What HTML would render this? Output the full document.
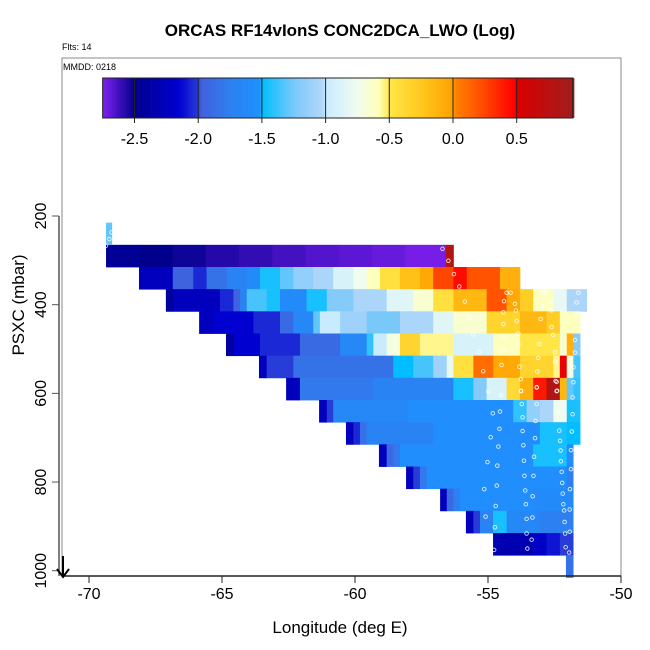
<!DOCTYPE html>
<html><head><meta charset="utf-8"><style>
body{margin:0;background:#fff;width:650px;height:650px;overflow:hidden}
svg{display:block;font-family:"Liberation Sans",sans-serif}
</style></head><body>
<svg id="c" width="650" height="650" viewBox="0 0 650 650">
<text x="340" y="36" text-anchor="middle" font-size="17" font-weight="bold">ORCAS RF14vIonS CONC2DCA_LWO (Log)</text>
<text x="62" y="50" font-size="9">Flts: 14</text>
<g id="cells"></g>
<g id="circles"></g>
<g id="cbar"></g>
<rect x="62" y="58" width="559" height="518" fill="none" stroke="#888" stroke-width="1"/>
<text x="63" y="70" font-size="9">MMDD: 0218</text>
<line x1="59" y1="216" x2="59" y2="576" stroke="#555" stroke-width="1.5"/>
<line x1="62" y1="576" x2="621" y2="576" stroke="#222" stroke-width="1.5"/>
<g id="xt"></g>
<g id="yt"></g>
<g><line x1="63" y1="556" x2="63" y2="576" stroke="#000" stroke-width="2"/><path d="M57,569 L63,577 L69,569" fill="none" stroke="#000" stroke-width="2"/></g>
<text x="340" y="633" text-anchor="middle" font-size="17">Longitude (deg E)</text>
<text transform="translate(24,305) rotate(-90)" text-anchor="middle" font-size="17">PSXC (mbar)</text>
</svg>
<script>
const xTicks=[-70,-65,-60,-55,-50];
const yTicks=[200,400,600,800,1000];
const cbTicks=[-2.5,-2.0,-1.5,-1.0,-0.5,0.0,0.5];
const rowTop=[265,315,365,415,465,515,565,615,665,715,765,815,865,915,965];
const rowEnd=[-56.3,-53.8,-51.29,-51.54,-51.54,-51.54,-51.54,-51.54,-51.54,-51.8,-51.8,-51.8,-51.8,-51.8,-51.8];
const segLon=[
[-69.36,-68.11,-66.86,-65.61,-64.36,-63.11,-61.86,-60.61,-59.36,-58.11,-56.58],
[-68.12,-66.85,-66.08,-65.58,-64.82,-64.07,-63.57,-62.82,-62.32,-61.57,-60.82,-60.06,-59.56,-59.06,-58.31,-57.56,-57.06,-56.3,-55.8,-54.55],
[-67.11,-66.83,-65.08,-64.57,-64.32,-64.07,-63.32,-62.82,-61.82,-61.06,-60.06,-58.81,-57.81,-57.06,-56.3,-55.05,-54.3,-53.8,-53.3,-52.54,-52.04],
[-65.86,-65.33,-63.82,-62.82,-62.32,-61.57,-61.32,-60.56,-59.56,-58.31,-57.06,-56.3,-55.05,-53.8,-52.8,-52.3],
[-64.85,-64.57,-63.57,-62.07,-60.56,-59.56,-59.31,-58.81,-58.31,-57.56,-56.3,-54.8,-53.8,-52.3,-52.04,-51.79],
[-63.61,-63.32,-62.32,-58.56,-57.81,-57.06,-56.55,-56.3,-55.55,-54.8,-53.8,-52.54,-52.3,-52.04,-51.79],
[-62.59,-62.07,-59.3,-56.3,-55.55,-55.05,-54.3,-53.8,-53.3,-52.8,-52.3,-52.04,-51.79],
[-61.35,-61.06,-60.82,-58.0,-54.05,-53.55,-53.05,-52.54,-52.04],
[-60.34,-60.06,-59.81,-59.56,-57.06,-53.05,-52.04],
[-59.1,-58.81,-58.56,-58.31,-53.3,-52.04],
[-58.08,-57.81,-57.56,-57.3,-52.04],
[-56.8,-56.55,-56.3,-56.05,-53.3],
[-55.83,-55.55,-55.3,-54.81,-54.3,-53.05],
[-54.81,-53.3,-52.8,-52.3],
[-52.07]];
const segVal=[
[-2.45,-2.5,-2.53,-2.57,-2.6,-2.63,-2.66,-2.68,-2.7,-2.73,0.8],
[-2.25,-1.95,-2.05,-1.85,-1.7,-1.6,-1.45,-1.3,-1.15,-1.05,-0.9,-0.75,-0.6,-0.45,-0.2,-0.05,0.25,0.45,0.2,-0.1],
[-2.4,-2.25,-2.05,-1.95,-1.7,-1.35,-1.45,-1.6,-1.45,-1.2,-1.05,-0.85,-0.65,-0.45,-0.15,0.2,-0.05,-0.3,-0.6,-0.8,-1.05],
[-2.25,-2.15,-2.05,-1.9,-1.65,-1.3,-1.0,-1.1,-1.25,-1.05,-0.85,-0.65,-0.35,-0.15,-0.3,-0.6],
[-2.4,-2.15,-2.05,-1.9,-1.65,-1.4,-1.0,-0.7,-0.35,-0.55,-0.9,-0.6,-0.5,-0.65,-0.1,-1.2],
[-2.25,-2.0,-1.85,-1.5,-1.35,-1.1,-0.8,-0.45,0.1,-0.05,-0.35,-0.55,0.5,-0.7,-1.35],
[-2.25,-1.8,-1.7,-1.45,-1.2,-0.9,-0.4,-0.1,0.4,0.8,-0.15,-1.3,-1.4],
[-2.25,-2.0,-1.65,-1.55,-1.4,-1.15,-1.05,-0.75,-1.45],
[-2.25,-2.05,-1.85,-1.7,-1.55,-1.45,-1.5],
[-2.25,-1.9,-1.8,-1.55,-1.45,-1.55],
[-2.25,-2.0,-1.8,-1.55,-1.75],
[-2.25,-1.9,-1.75,-1.55,-1.6],
[-2.25,-2.0,-1.7,-1.45,-1.65,-1.75],
[-2.3,-2.2,-2.1,-2.0],
[-1.85]];
const stripLon=[-69.36,-69.13];
const stripP=[215,265];
const stripVal=-1.3;
const ptLon=[-69.235,-69.15,-69.36,-56.71,-56.49,-56.28,-56.08,-55.87,-54.40,-53.99,-52.98,-52.65,-51.67,-55.70,-54.42,-53.92,-54.42,-53.95,-53.02,-52.61,-52.61,-51.67,-55.55,-55.33,-54.42,-53.86,-54.42,-53.86,-53.07,-52.55,-52.48,-51.73,-51.73,-54.49,-55.18,-53.82,-53.11,-53.15,-52.48,-51.79,-53.77,-53.76,-53.17,-52.46,-52.40,-54.99,-51.79,
-54.51,-53.76,-53.17,-52.42,-52.42,-51.82,-54.82,-54.55,-53.73,-53.17,-53.70,-53.21,-52.36,-51.82,-54.57,-54.90,-53.70,-53.23,-52.32,-52.29,-51.85,-54.61,-55.02,-54.65,-53.67,-53.65,-53.27,-52.27,-52.26,-51.88,-52.23,-51.88,-53.63,-53.29,-52.21,-55.14,-54.67,-53.60,-53.32,-53.58,-52.19,-51.92,-52.17,-54.71,-55.09,-54.74,-53.55,-53.33,-52.14,-51.93,-52.12,-53.55,-53.36,-52.10,-51.93,-54.77,-53.52,-52.08,-51.95,-54.3,-54.15,-52.95,-52.85,-51.6];
const ptP=[252,237,267,274,301,331,359,393,392,398,404,393,395,429,417,437,444,413,432,413,450,422,467,506,472,465,502,489,489,468,507,480,508,536,550,540,520,551,529,541,568,594,587,572,594,596,575,
604,595,586,574,595,609,645,641,624,624,654,662,641,647,680,699,685,701,684,707,686,720,755,763,717,752,743,729,753,728,777,771,786,786,802,816,808,819,832,850,826,816,850,854,878,902,883,880,864,862,890,916,930,916,912,953,950,947,959,373,373,373,373,373];

const NS='http://www.w3.org/2000/svg';
const X=lon=>89+(lon+70)*26.6;
const Y=p=>216+(p-200)*0.4434;
const CBX=v=>453+v*127.4;
const stops=[[-2.75,[128,32,240]],[-2.5,[0,0,140]],[-2.15,[0,0,208]],[-2.0,[40,60,215]],[-1.98,[65,95,220]],[-1.75,[45,128,240]],[-1.52,[30,144,255]],[-1.5,[0,190,255]],[-1.25,[120,200,250]],[-1.02,[180,215,250]],[-1.0,[200,235,255]],[-0.75,[240,252,240]],[-0.58,[255,255,185]],[-0.5,[255,230,70]],[-0.25,[255,200,30]],[0,[255,160,0]],[0.02,[255,130,0]],[0.25,[255,70,0]],[0.48,[255,0,0]],[0.52,[215,0,0]],[0.94,[160,30,30]]];
function col(v){
 if(v<=stops[0][0])return 'rgb('+stops[0][1]+')';
 for(let i=1;i<stops.length;i++){if(v<=stops[i][0]){const a=stops[i-1],b=stops[i],t=(v-a[0])/(b[0]-a[0]);
 return 'rgb('+a[1].map((c,k)=>Math.round(c+(b[1][k]-c)*t)).join(',')+')';}}
 return 'rgb('+stops[stops.length-1][1]+')';
}
function mk(tag,attrs,parent){const e=document.createElementNS(NS,tag);for(const k in attrs)e.setAttribute(k,attrs[k]);parent.appendChild(e);return e;}
const cells=document.getElementById('cells');
for(let r=0;r<segLon.length;r++){
 for(let s=0;s<segLon[r].length;s++){
  const l0=segLon[r][s],l1=s+1<segLon[r].length?segLon[r][s+1]:rowEnd[r];
  const e=mk('rect',{x:X(l0),y:Y(rowTop[r]),width:X(l1)-X(l0)+0.4,height:Y(rowTop[r]+50)-Y(rowTop[r])+0.4,fill:col(segVal[r][s])},cells);
  
  
 }
}
const st=mk('rect',{x:X(stripLon[0]),y:Y(stripP[0]),width:X(stripLon[1])-X(stripLon[0]),height:Y(stripP[1])-Y(stripP[0]),fill:col(stripVal)},cells);


const circ=document.getElementById('circles');
for(let i=0;i<ptLon.length;i++){
 const c=mk('circle',{cx:X(ptLon[i]),cy:Y(ptP[i]),r:1.8,fill:'none',stroke:'#fff','stroke-opacity':0.85,'stroke-width':0.9},circ);
 
 
}
const cb=document.getElementById('cbar');
for(let v=-2.75;v<0.94;v+=0.01){
 mk('rect',{x:CBX(v),y:78,width:1.6,height:40,fill:col(v+0.005)},cb);
}
mk('rect',{x:CBX(-2.75),y:78,width:CBX(0.94)-CBX(-2.75),height:40,fill:'none',stroke:'#222','stroke-width':1},cb);
cbTicks.forEach(t=>{
 mk('line',{x1:CBX(t),x2:CBX(t),y1:78,y2:123,stroke:'#222','stroke-width':1},cb);
 const tx=mk('text',{x:CBX(t),y:144,'text-anchor':'middle','font-size':16},cb);
 tx.textContent=t.toFixed(1);
 
 
});
const xt=document.getElementById('xt');
xTicks.forEach(t=>{
 mk('line',{x1:X(t),x2:X(t),y1:576,y2:583,stroke:'#222'},xt);
 const tx=mk('text',{x:X(t),y:599,'text-anchor':'middle','font-size':16},xt);
 tx.textContent=t;
 
 
});
const yt=document.getElementById('yt');
yTicks.forEach(t=>{
 mk('line',{x1:52,x2:59,y1:Y(t),y2:Y(t),stroke:'#555'},yt);
 const tx=mk('text',{'text-anchor':'middle','font-size':16,transform:'translate(46,'+Y(t)+') rotate(-90)'},yt);
 tx.textContent=t;
 
 
});
</script>
</body></html>
